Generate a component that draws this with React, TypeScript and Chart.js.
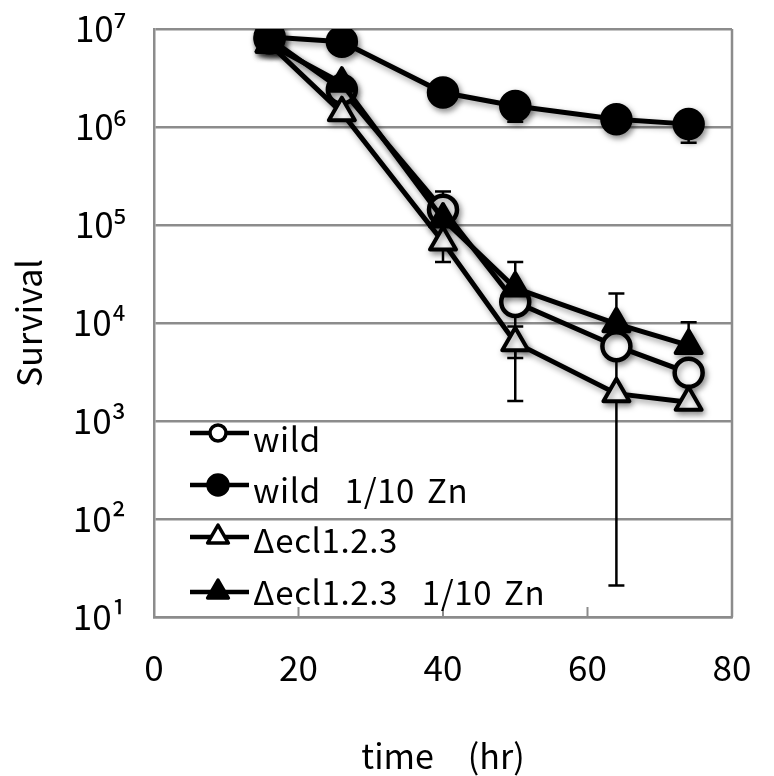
import React, { useEffect, useRef } from 'react';
import { Chart, registerables } from 'chart.js';

Chart.register(...registerables);

// ---- data ----
const times = [16, 26, 40, 50, 64, 74];
const wild = [8.0e6, 2.4e6, 1.43e5, 1.64e4, 5.8e3, 3.1e3];
const wildZn = [8.3e6, 7.4e6, 2.25e6, 1.64e6, 1.2e6, 1.07e6];
const ecl = [7.0e6, 1.4e6, 6.7e4, 6.3e3, 1.9e3, 1.55e3];
const eclZn = [7.0e6, 2.8e6, 1.15e5, 2.27e4, 9.8e3, 5.9e3];

// error bar ends (absolute values), null = none visible
const wildHi = [null, null, 2.2e5, null, null, null];
const wildLo = [null, null, null, 1.6e3, 21, null];
const wildZnHi = [null, null, null, null, null, null];
const wildZnLo = [null, null, null, 1.13e6, null, 6.9e5];
const eclHi = [null, null, null, 9.2e3, null, null];
const eclLo = [null, null, 4.2e4, 4.4e3, null, null];
const eclZnHi = [null, null, null, 4.2e4, 2.0e4, 1.02e4];
const eclZnLo = [null, null, null, null, null, null];

const xTicks = [0, 20, 40, 60, 80];
const yTicks = [1e1, 1e2, 1e3, 1e4, 1e5, 1e6, 1e7];
const seriesLabels = ['wild', 'wild  1/10 Zn', 'Δecl1.2.3', 'Δecl1.2.3  1/10 Zn'];
const xTitle = 'time\u3000(hr)';
const yTitle = 'Survival';

const SUP: Record<string, string> = {
  '0': '⁰', '1': '¹', '2': '²', '3': '³', '4': '⁴',
  '5': '⁵', '6': '⁶', '7': '⁷', '8': '⁸', '9': '⁹',
};

const FONT = "'Noto Sans CJK JP', 'Noto Sans', sans-serif";
const GRID = '#8c8c8c';

const toPts = (ys: number[]) => times.map((t, i) => ({ x: t, y: ys[i] }));

export default function App() {
  const ref = useRef<HTMLCanvasElement | null>(null);

  useEffect(() => {
    if (!ref.current) return;

    const errSets = [
      { hi: wildHi, lo: wildLo },
      { hi: wildZnHi, lo: wildZnLo },
      { hi: eclHi, lo: eclLo },
      { hi: eclZnHi, lo: eclZnLo },
    ];

    const decorPlugin = {
      id: 'decor',
      beforeDatasetsDraw(chart: any) {
        const { ctx, chartArea: a, scales } = chart;
        const xs = scales.x;
        const ys = scales.y;
        ctx.save();
        // right border
        ctx.strokeStyle = GRID;
        ctx.lineWidth = 2.5;
        ctx.beginPath();
        ctx.moveTo(a.right, a.top);
        ctx.lineTo(a.right, a.bottom);
        ctx.stroke();
        // inner x tick marks
        ctx.lineWidth = 2;
        xTicks.slice(1, -1).forEach((v) => {
          const px = xs.getPixelForValue(v);
          ctx.beginPath();
          ctx.moveTo(px, a.bottom);
          ctx.lineTo(px, a.bottom - 10);
          ctx.stroke();
        });
        // error bars
        ctx.strokeStyle = '#000';
        ctx.lineWidth = 2.5;
        errSets.forEach((e, si) => {
          const vals = [wild, wildZn, ecl, eclZn][si];
          times.forEach((t, i) => {
            const px = xs.getPixelForValue(t);
            const py = ys.getPixelForValue(vals[i]);
            [e.hi[i], e.lo[i]].forEach((end) => {
              if (end == null) return;
              const pe = ys.getPixelForValue(end);
              ctx.beginPath();
              ctx.moveTo(px, py);
              ctx.lineTo(px, pe);
              ctx.moveTo(px - 8, pe);
              ctx.lineTo(px + 8, pe);
              ctx.stroke();
            });
          });
        });
        ctx.restore();
        // shadow for the series
        ctx.save();
        ctx.shadowColor = 'rgba(0,0,0,0.4)';
        ctx.shadowBlur = 6;
        ctx.shadowOffsetX = 2;
        ctx.shadowOffsetY = 3;
        ctx.lineJoin = 'round';
      },
      afterDatasetsDraw(chart: any) {
        chart.ctx.restore();
      },
      afterDraw(chart: any) {
        const { ctx, chartArea: a } = chart;
        ctx.save();
        // legend
        const markY = [433, 485, 537, 592].map((v) => v - 29 + a.top);
        const baseY = [452, 503, 553, 605].map((v) => v - 29 + a.top);
        const styles = [
          { tri: false, fill: '#fff' },
          { tri: false, fill: '#000' },
          { tri: true, fill: '#fff' },
          { tri: true, fill: '#000' },
        ];
        const x0 = a.left + 36;
        const x1 = a.left + 95;
        const mx = a.left + 64;
        seriesLabels.forEach((lab, i) => {
          const y = markY[i];
          ctx.strokeStyle = '#000';
          ctx.lineWidth = 4.5;
          ctx.lineJoin = 'round';
          ctx.beginPath();
          ctx.moveTo(x0, y);
          ctx.lineTo(x1, y);
          ctx.stroke();
          ctx.fillStyle = styles[i].fill;
          ctx.lineWidth = 3.5;
          ctx.beginPath();
          if (styles[i].tri) {
            const r = 12;
            ctx.moveTo(mx, y - r);
            ctx.lineTo(mx + r * 0.866, y + r * 0.5);
            ctx.lineTo(mx - r * 0.866, y + r * 0.5);
            ctx.closePath();
          } else {
            ctx.arc(mx, y, i === 0 ? 8 : 10, 0, Math.PI * 2);
          }
          ctx.fill();
          ctx.stroke();
          ctx.fillStyle = '#000';
          ctx.font = `33px ${FONT}`;
          ctx.textAlign = 'left';
          ctx.textBaseline = 'alphabetic';
          try {
            ctx.wordSpacing = '4px';
            ctx.letterSpacing = '0.6px';
          } catch (e) {
            /* ignore */
          }
          ctx.fillText(lab, a.left + 99, baseY[i]);
        });
        // stray, clipped "0" label at the far left of the reference
        ctx.font = `35px ${FONT}`;
        ctx.textAlign = 'center';
        ctx.textBaseline = 'middle';
        ctx.fillText('0', a.left - 162, a.bottom + 51);
        ctx.restore();
      },
    };

    const chart = new Chart(ref.current, {
      type: 'line',
      data: {
        datasets: [
          {
            label: seriesLabels[0],
            data: toPts(wild),
            borderColor: '#000',
            borderWidth: 5,
            pointStyle: 'circle',
            pointRadius: 14,
            pointBorderWidth: 4.5,
            pointBorderColor: '#000',
            pointBackgroundColor: '#fff',
            order: 4,
          },
          {
            label: seriesLabels[1],
            data: toPts(wildZn),
            borderColor: '#000',
            borderWidth: 5,
            pointStyle: 'circle',
            pointRadius: 14,
            pointBorderWidth: 4.5,
            pointBorderColor: '#000',
            pointBackgroundColor: '#000',
            order: 3,
          },
          {
            label: seriesLabels[2],
            data: toPts(ecl),
            borderColor: '#000',
            borderWidth: 5,
            pointStyle: 'triangle',
            pointRadius: 15,
            pointBorderWidth: 4,
            pointBorderColor: '#000',
            pointBackgroundColor: '#fff',
            order: 2,
          },
          {
            label: seriesLabels[3],
            data: toPts(eclZn),
            borderColor: '#000',
            borderWidth: 5,
            pointStyle: 'triangle',
            pointRadius: 15,
            pointBorderWidth: 4,
            pointBorderColor: '#000',
            pointBackgroundColor: '#000',
            order: 1,
          },
        ],
      },
      options: {
        animation: false,
        responsive: true,
        maintainAspectRatio: false,
        events: [],
        layout: { autoPadding: false, padding: { left: 0, right: 42, top: 29, bottom: 0 } },
        plugins: {
          legend: { display: false },
          tooltip: { enabled: false },
        },
        scales: {
          x: {
            type: 'linear',
            min: 0,
            max: 80,
            afterBuildTicks: (s: any) => {
              s.ticks = xTicks.map((v) => ({ value: v }));
            },
            afterFit: (s: any) => {
              s.height = 159;
              s.paddingLeft = 0;
              s.paddingRight = 0;
            },
            ticks: {
              color: '#000',
              font: { family: FONT, size: 35 },
              padding: 30,
              maxRotation: 0,
              autoSkip: false,
            },
            grid: { display: false, drawTicks: false },
            border: { display: true, color: GRID, width: 2.5 },
            title: {
              display: true,
              text: xTitle,
              color: '#000',
              font: { family: FONT, size: 34 },
              padding: { top: 0, bottom: 0 },
            },
          },
          y: {
            type: 'logarithmic',
            min: 10,
            max: 1e7,
            afterBuildTicks: (s: any) => {
              s.ticks = yTicks.map((v) => ({ value: v }));
            },
            afterFit: (s: any) => {
              s.width = 154;
              s.paddingTop = 0;
              s.paddingBottom = 0;
            },
            ticks: {
              color: '#000',
              font: { family: FONT, size: 35 },
              padding: 28,
              autoSkip: false,
              callback: (v: any) => {
                const e = String(Math.round(Math.log10(Number(v))));
                return '10' + e.split('').map((c) => SUP[c] ?? c).join('');
              },
            },
            grid: { color: GRID, lineWidth: 2.5, drawTicks: false },
            border: { display: true, color: GRID, width: 2.5 },
            title: {
              display: true,
              text: yTitle,
              color: '#000',
              font: { family: FONT, size: 34 },
              padding: { top: 8.6, bottom: 0 },
            },
          },
        },
      },
      plugins: [decorPlugin],
    } as any);

    return () => chart.destroy();
  }, []);

  return (
    <div style={{ position: 'fixed', left: 0, top: 0, width: 774, height: 776, background: '#fff' }}>
      <canvas ref={ref} />
    </div>
  );
}
